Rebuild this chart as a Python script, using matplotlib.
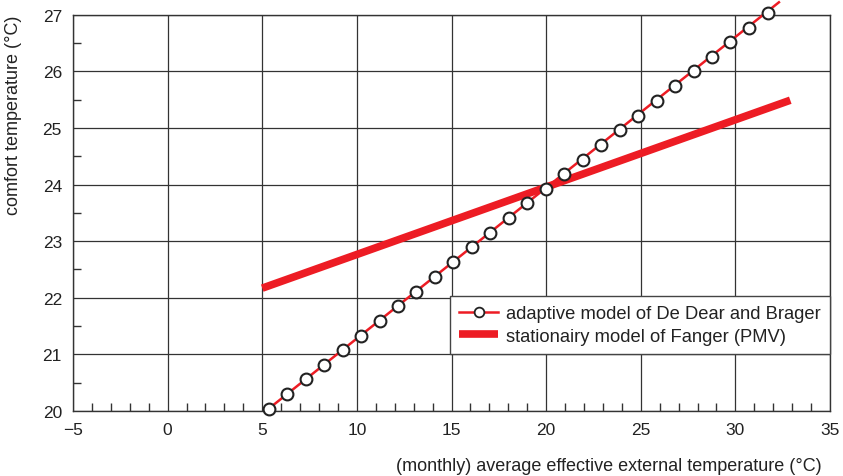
import matplotlib.pyplot as plt
from matplotlib.ticker import MultipleLocator

plt.rcParams['font.family'] = ['Liberation Sans', 'DejaVu Sans']

# adaptive model of De Dear and Brager (marker points)
adaptive_x = [5.34, 6.32, 7.30, 8.27, 9.25, 10.22, 11.20, 12.17, 13.15, 14.13,
              15.10, 16.08, 17.05, 18.03, 19.00, 19.98, 20.96, 21.93, 22.91, 23.88,
              24.86, 25.84, 26.81, 27.79, 28.76, 29.74, 30.72, 31.70]
adaptive_y = [20.04, 20.30, 20.56, 20.82, 21.08, 21.33, 21.59, 21.85, 22.11, 22.37,
              22.63, 22.89, 23.15, 23.41, 23.67, 23.93, 24.18, 24.44, 24.70, 24.96,
              25.22, 25.48, 25.74, 26.00, 26.26, 26.51, 26.77, 27.03]
# the red line runs a bit past the last marker
adaptive_line_x = [5.34, 32.3]
adaptive_line_y = [20.04, 27.22]

# stationairy model of Fanger (PMV)
fanger_x = [5.0, 32.9]
fanger_y = [22.17, 25.49]

red = '#ed1c24'

fig = plt.figure(figsize=(8.43, 4.77), dpi=100)
ax = fig.add_axes([0.0866, 0.1363, 0.8980, 0.8307])

ax.plot(fanger_x, fanger_y, color=red, lw=5.5, solid_capstyle='butt', zorder=3)
ax.plot(adaptive_line_x, adaptive_line_y, color=red, lw=1.8, clip_on=False, zorder=4)
ax.plot(adaptive_x, adaptive_y, ls='none', marker='o', ms=8.5, mfc='white',
        mec='#222222', mew=1.5, clip_on=False, zorder=5)

ax.set_xlim(-5, 35)
ax.set_ylim(20, 27)
ax.xaxis.set_major_locator(MultipleLocator(5))
ax.xaxis.set_minor_locator(MultipleLocator(1))
ax.yaxis.set_major_locator(MultipleLocator(1))
ax.yaxis.set_minor_locator(MultipleLocator(0.5))
ax.grid(True, which='major', color='#333333', lw=0.9)
ax.tick_params(which='both', direction='in', colors='#333333', labelcolor='#222222',
               labelsize=12.5)
ax.tick_params(which='major', length=0, pad=8)
ax.tick_params(which='minor', length=6, width=1)
for s in ax.spines.values():
    s.set_color('#333333')
    s.set_linewidth(1)

# slightly heavier minor tick at 7
for t in ax.xaxis.get_minor_ticks():
    if abs(t.get_loc() - 7) < 1e-6:
        t.tick1line.set_markeredgewidth(2.5)

ax.set_xlabel('(monthly) average effective external temperature (°C)', fontsize=13,
              loc='right', color='#222222')
ax.xaxis.set_label_coords(0.9894, -0.115)
ax.set_ylabel('comfort temperature (°C)', fontsize=13, loc='top', color='#222222')
ax.yaxis.set_label_coords(-0.067, 1.0)

h1, = ax.plot([], [], color=red, lw=1.8, marker='o', ms=7, mfc='white', mec='#222222',
              mew=1.3)
h2, = ax.plot([], [], color=red, lw=5.5, solid_capstyle='butt')
leg = ax.legend([h1, h2], ['adaptive model of De Dear and Brager',
                           'stationairy model of Fanger (PMV)'],
                loc='lower right', bbox_to_anchor=(1.0, 0.144), borderaxespad=0,
                fontsize=13.2, handlelength=2.1, handletextpad=0.45, fancybox=False,
                framealpha=1, edgecolor='#444444', labelspacing=0.3, borderpad=0.5)
leg.get_frame().set_linewidth(1)
for t in leg.get_texts():
    t.set_color('#222222')

fig.savefig('out.png', dpi=100)
